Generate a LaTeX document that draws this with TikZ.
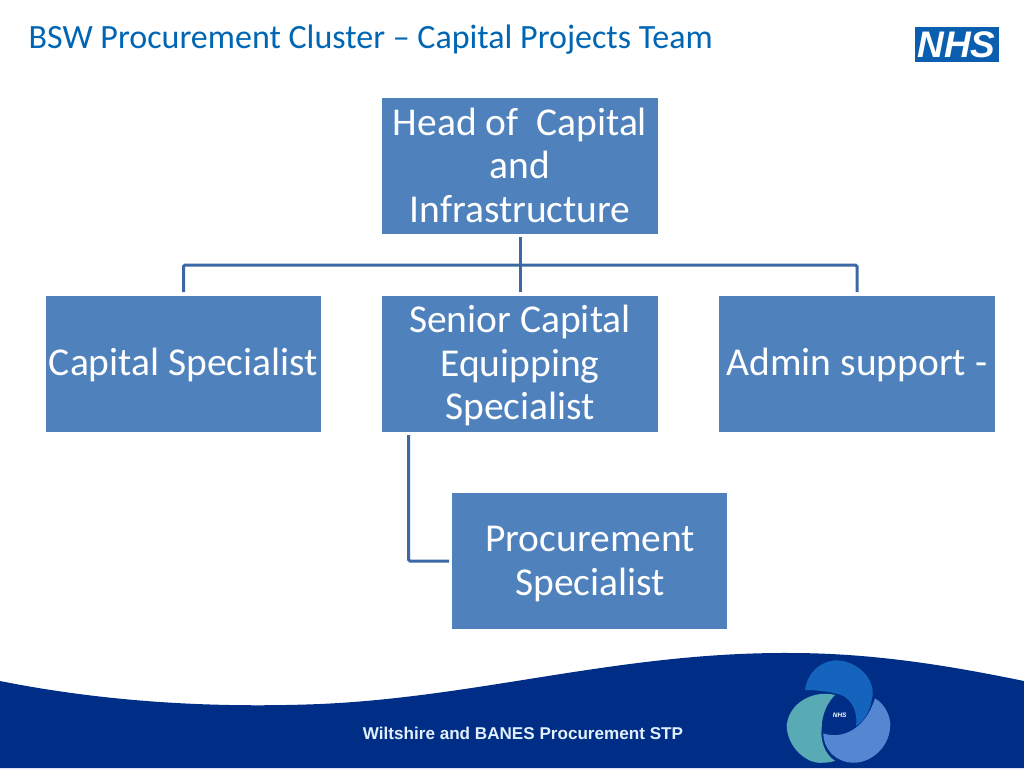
\documentclass[tikz,border=0pt]{standalone}
\usepackage{fontspec}
\setmainfont{Carlito}
\newfontfamily\footerfont{Liberation Sans}
\usetikzlibrary{positioning}
\definecolor{boxblue}{RGB}{79,129,189}
\definecolor{edgeblue}{RGB}{60,104,165}
\definecolor{navyband}{RGB}{0,46,135}
\definecolor{titleblue}{RGB}{0,102,179}
\definecolor{logoblue}{RGB}{10,94,176}
\definecolor{tealleaf}{RGB}{88,170,180}
\definecolor{lightleaf}{RGB}{84,134,210}
\definecolor{topleaf}{RGB}{20,100,190}
\tikzset{
  postbox/.style={fill=boxblue, minimum width=275.5pt, minimum height=136pt, inner sep=0pt},
  posttext/.style={inner sep=0pt, align=center, text=white, font=\fontsize{39.5}{43.5}\selectfont},
  orgline/.style={draw=edgeblue, line width=3pt, rounded corners=1.5pt}
}
\begin{document}
\begin{tikzpicture}[x=1pt, y=-1pt]
\useasboundingbox (0, 0) rectangle (1024, 768);

\node[anchor=west, inner sep=0pt, text=titleblue, font=\fontsize{34}{38}\selectfont] (title) at (28.5, 40) {BSW Procurement Cluster -- Capital Projects Team};

\node[postbox, label={[posttext, yshift=1pt]center:{Head of\ \ Capital\\and\\Infrastructure}}] (head) at (520, 166) {};
\node[postbox, label={[posttext, yshift=-1pt]center:{Capital Specialist}}] (capital) at (183.5, 364) {};
\node[postbox, label={[posttext, yshift=-1.5pt]center:{Senior Capital\\Equipping\\Specialist}}] (senior) at (520, 364) {};
\node[postbox, label={[posttext, yshift=-1pt]center:{Admin support -}}] (admin) at (857, 364) {};
\node[postbox, label={[posttext, yshift=-3pt, xshift=0.5pt]center:{Procurement\\Specialist}}] (procure) at (589.5, 561) {};

\coordinate (bus) at (520, 265);
\coordinate (capitaltop) at (183.5, 292);
\coordinate (admintop) at (857, 292);
\coordinate (seniortop) at (520, 292);
\coordinate (headfoot) at (520, 237);
\coordinate (seniorfoot) at (408.5, 435);
\coordinate (procureleft) at (449, 561);

\draw[orgline] (capitaltop) |- (bus) -| (admintop);
\draw[orgline] (headfoot) -- (seniortop);
\draw[orgline] (seniorfoot) |- (procureleft);

% footer band
\fill[navyband] (0, 681) .. controls (110, 703) and (220, 708) .. (320, 704) .. controls (480, 697) and (620, 652) .. (790, 653) .. controls (880, 653) and (960, 668) .. (1024, 681) -- (1024, 768) -- (0, 768) -- cycle;
\node[text={rgb,255:red,225;green,240;blue,250}, font=\footerfont\fontsize{17.1}{20}\selectfont\bfseries] (footer) at (523, 733) {Wiltshire and BANES Procurement STP};

% logo
\fill[logoblue] (915, 27) rectangle (999, 62);
\node[text=white, font=\footerfont\fontsize{37}{37}\selectfont\bfseries\itshape] (nhs) at (956.5, 45) {NHS};

% roundel
\begin{scope}[shift={(770, 640)}, x=0.3333pt, y=-0.3333pt]
\fill[topleaf] (105, 150) .. controls (115, 80) and (175, 55) .. (215, 62) .. controls (280, 75) and (320, 130) .. (305, 180) .. controls (300, 215) and (280, 245) .. (258, 258) .. controls (265, 210) and (240, 165) .. (195, 160) .. controls (160, 152) and (130, 150) .. (105, 150) -- cycle;
\fill[tealleaf] (195, 165) .. controls (140, 150) and (60, 180) .. (50, 255) .. controls (50, 320) and (110, 375) .. (160, 368) .. controls (175, 368) and (190, 365) .. (195, 362) .. controls (165, 345) and (150, 300) .. (155, 265) .. controls (155, 220) and (175, 185) .. (195, 165) -- cycle;
\fill[lightleaf] (160, 280) .. controls (200, 295) and (280, 285) .. (315, 175) .. controls (350, 195) and (365, 240) .. (360, 265) .. controls (355, 325) and (300, 370) .. (250, 368) .. controls (200, 368) and (160, 330) .. (160, 280) -- cycle;
\node[text=white, font=\footerfont\fontsize{6.5}{6.5}\selectfont\bfseries\itshape] (roundel) at (209, 226) {NHS};
\end{scope}
\end{tikzpicture}
\end{document}
